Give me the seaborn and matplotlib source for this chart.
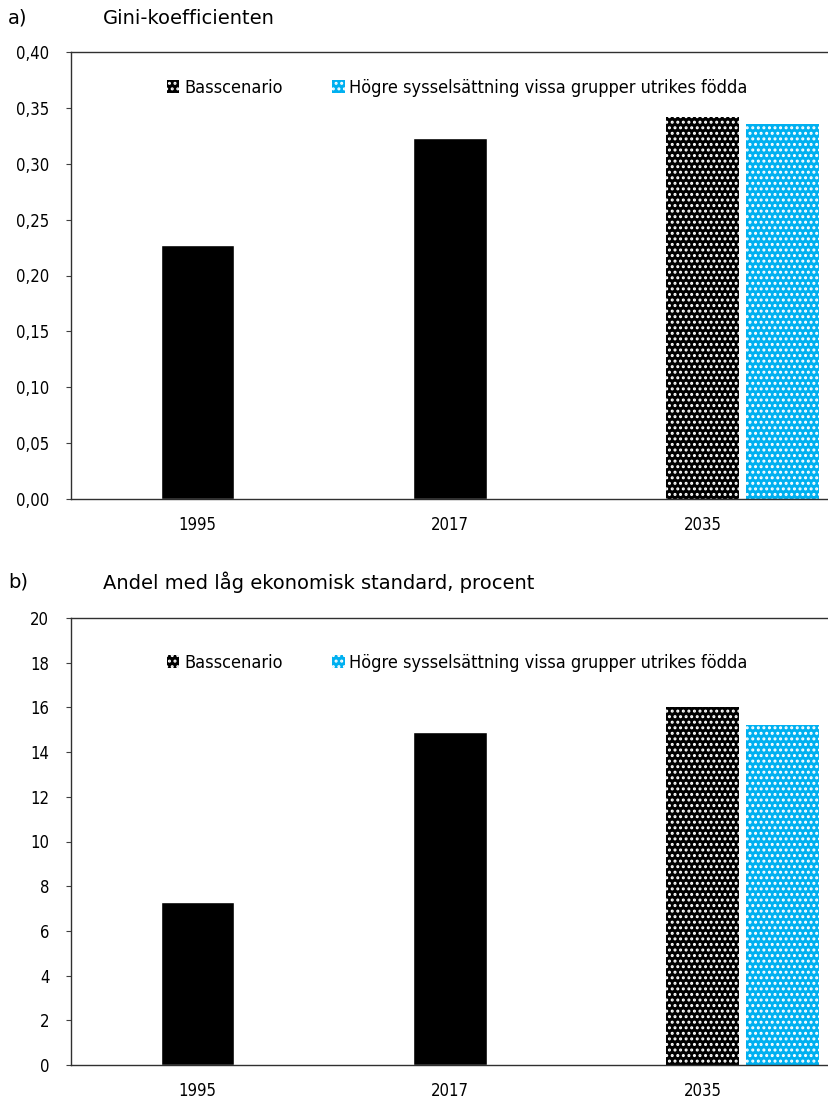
import numpy as np
import pandas as pd
import seaborn as sns
import matplotlib.pyplot as plt
from matplotlib.patches import Patch

years = ['1995', '2017', '2035']
gini_bas = [0.227, 0.323, 0.342]
gini_hog = [0.336]
low_bas = [7.3, 14.9, 16.0]
low_hog = [15.2]

lab_bas = 'Basscenario'
lab_hog = 'Högre sysselsättning vissa grupper utrikes födda'
blue = '#00b0f0'

sns.set_style('white')
plt.rcParams['font.family'] = ['DejaVu Sans']
plt.rcParams['font.stretch'] = 'condensed'
plt.rcParams['text.color'] = 'black'
plt.rcParams['xtick.color'] = 'black'
plt.rcParams['ytick.color'] = 'black'
plt.rcParams['hatch.linewidth'] = 1.4

fig = plt.figure(figsize=(8.29, 11.04), dpi=100)
ax1 = fig.add_axes([71/829, 1-499/1104, 1-71/829, 447/1104])
ax2 = fig.add_axes([71/829, 1-1065/1104, 1-71/829, 447/1104])


def panel(ax, bas, hog, ymax, step, fmt, leg_y):
    df = pd.DataFrame({'year': years, 'val': bas})
    sns.barplot(data=df, x='year', y='val', color='black', width=0.29,
                saturation=1, ax=ax)
    # 2035 basscenario gets the pattern
    p = ax.patches[2]
    p.set_hatch('...')
    p.set_edgecolor('white')
    p.set_linewidth(0)
    ax.bar(2 + 0.316, hog[0], width=0.29, color=blue, edgecolor='white',
           linewidth=0, hatch='...')
    ax.set_xlim(-0.5, 2.5)
    ax.set_ylim(0, ymax)
    yt = np.arange(0, ymax + step / 2, step)
    ax.set_yticks(yt)
    ax.set_yticklabels([fmt(v) for v in yt], fontsize=12)
    ax.set_xticks([-0.5, 0.5, 1.5, 2.5])
    ax.set_xticklabels([])
    ax.set_xticks([0, 1, 2], minor=True)
    ax.set_xticklabels(years, minor=True, fontsize=12)
    ax.tick_params(axis='x', which='major', direction='inout', length=12,
                   width=0.8, color='#404040')
    ax.tick_params(axis='x', which='minor', length=0, pad=12)
    ax.tick_params(axis='y', direction='out', length=3.6, width=0.8,
                   color='#404040', left=True, pad=12)
    ax.set_xlabel('')
    ax.set_ylabel('')
    for s in ['left', 'bottom', 'top']:
        ax.spines[s].set_visible(True)
        ax.spines[s].set_color('#303030')
        ax.spines[s].set_linewidth(1)
    ax.spines['right'].set_visible(False)
    handles = [Patch(facecolor='black', edgecolor='white', hatch='...', linewidth=0),
               Patch(facecolor=blue, edgecolor='white', hatch='...', linewidth=0)]
    ax.legend(handles, [lab_bas, lab_hog], ncol=2, frameon=False,
              loc='center left', bbox_to_anchor=(0.105, leg_y), fontsize=13,
              handlelength=0.7, handleheight=0.7, handletextpad=0.25,
              columnspacing=2.75)


panel(ax1, gini_bas, gini_hog, 0.40, 0.05, lambda v: f'{v:.2f}'.replace('.', ','), 0.92)
panel(ax2, low_bas, low_hog, 20, 2, lambda v: f'{v:.0f}', 0.90)

kw = dict(fontsize=14, va='center', fontstretch='normal')
fig.text(8/829, 1-18/1104, 'a)', **kw)
fig.text(103/829, 1-18/1104, 'Gini-koefficienten', **kw)
fig.text(8/829, 1-582/1104, 'b)', **kw)
fig.text(103/829, 1-582/1104, 'Andel med låg ekonomisk standard, procent', **kw)

fig.savefig('out.png', dpi=100)
